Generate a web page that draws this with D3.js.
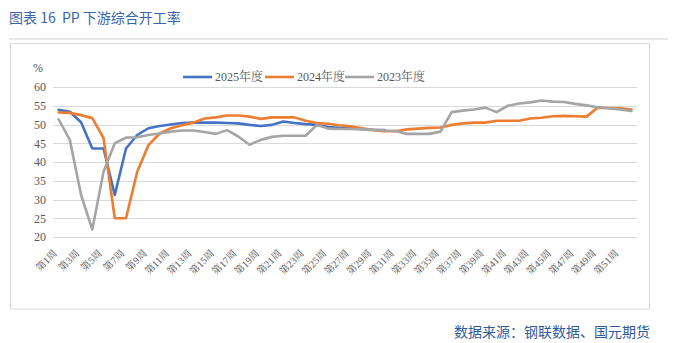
<!DOCTYPE html>
<html><head><meta charset="utf-8">
<script src="https://cdn.jsdelivr.net/npm/d3@7"></script>
<style>
html,body{margin:0;padding:0;background:#fff;}
svg{display:block;}
</style></head>
<body>
<svg id="c" width="676" height="343"></svg>
<script>
const weeks = d3.range(1, 53).map(i => "第" + i + "周");
const yTicks = [20, 25, 30, 35, 40, 45, 50, 55, 60];
const seriesNames = ["2025年度", "2024年度", "2023年度"];
const v2025 = [53.9,53.4,50.6,43.6,43.6,31.2,43.6,47.2,49.0,49.6,50.0,50.4,50.5,50.5,50.5,50.4,50.3,49.9,49.6,49.9,50.8,50.4,50.1,49.9,49.3,49.1,49.0,48.8,48.6,48.5];
const v2024 = [53.2,53.1,52.5,51.7,46.4,25.0,25.0,37.4,44.5,47.6,49.0,49.8,50.5,51.6,51.9,52.4,52.4,52.1,51.5,51.9,51.9,51.9,51.0,50.4,50.2,49.8,49.5,49.0,48.5,48.2,48.2,48.7,48.9,49.1,49.2,49.9,50.3,50.5,50.5,51.0,51.0,51.0,51.6,51.8,52.2,52.3,52.2,52.1,54.5,54.4,54.3,54.0];
const v2023 = [51.4,45.9,31.2,22.0,37.4,45.0,46.5,46.6,47.2,47.6,48.1,48.4,48.4,48.0,47.5,48.5,46.8,44.6,45.9,46.7,47.0,47.0,47.0,49.9,48.9,48.8,48.8,48.7,48.6,48.4,48.3,47.5,47.5,47.5,48.1,53.3,53.7,54.0,54.5,53.3,55.0,55.6,55.9,56.4,56.1,56.0,55.5,55.1,54.6,54.3,54.0,53.6];
const colors = ["#4472C4", "#ED7D31", "#A5A5A5"];

const svg = d3.select("#c");
const serif = "'Liberation Serif','Noto Serif CJK SC','Noto Sans CJK SC',serif";
const sans = "'Noto Sans CJK SC','Microsoft YaHei',sans-serif";

// title
svg.append("text").attr("x", 9).attr("y", 23).attr("font-family", sans).attr("font-size", 14)
  .style("white-space", "pre").attr("fill", "#3A64A8").text("图表 16  PP 下游综合开工率");
svg.append("line").attr("x1", 9).attr("x2", 668).attr("y1", 39).attr("y2", 39)
  .attr("stroke", "#D0D0D0").attr("stroke-width", 1);
// box
svg.append("rect").attr("x", 10.5).attr("y", 43.5).attr("width", 639).attr("height", 265.5)
  .attr("fill", "none").attr("stroke", "#D9D9D9");
// footer
svg.append("text").attr("x", 650).attr("y", 337).attr("text-anchor", "end").attr("font-family", sans)
  .attr("font-size", 14).attr("fill", "#2E5B9A").text("数据来源：钢联数据、国元期货");

const x = d3.scaleBand().domain(weeks).range([53, 637]);
const y = d3.scaleLinear().domain([20, 60]).range([237, 87]);
const cx = d => x(d) + x.bandwidth() / 2;

// grid
const g = svg.append("g");
g.selectAll("line.grid").data(yTicks).join("line")
  .attr("x1", 53).attr("x2", 637).attr("y1", d => Math.round(y(d)) + 0.5).attr("y2", d => Math.round(y(d)) + 0.5)
  .attr("stroke", "#D9D9D9").attr("stroke-width", 1);

// y axis labels
const yAxis = d3.axisLeft(y).tickValues(yTicks).tickSize(0).tickPadding(0);
const ya = svg.append("g").attr("transform", "translate(46,0)").call(yAxis);
ya.select(".domain").remove();
ya.selectAll("text").attr("font-family", serif).attr("font-size", 12).attr("fill", "#595959");
svg.append("text").attr("x", 33).attr("y", 72).attr("font-family", serif).attr("font-size", 12)
  .attr("fill", "#595959").text("%");

// x axis labels
const xAxis = d3.axisBottom(x).tickValues(weeks.filter((d, i) => i % 2 === 0)).tickSize(0).tickPadding(0);
const xa = svg.append("g").attr("transform", "translate(0,237)").call(xAxis);
xa.select(".domain").remove();
xa.selectAll("text").attr("font-family", serif).attr("font-size", 10).attr("fill", "#595959")
  .attr("text-anchor", "end").attr("dy", 0).attr("y", 0)
  .attr("transform", "translate(-1,17) rotate(-45)");

// lines
const data = [v2025, v2024, v2023];
const line = d3.line().x((d, i) => cx(weeks[i])).y(d => y(d));
svg.append("g").selectAll("path").data(data).join("path")
  .attr("d", d => line(d)).attr("fill", "none").attr("stroke", (d, i) => colors[i])
  .attr("stroke-width", 2.6).attr("stroke-linejoin", "round").attr("stroke-linecap", "round");

// legend
const lx = [183, 265, 345];
const lg = svg.append("g");
seriesNames.forEach((n, i) => {
  lg.append("line").attr("x1", lx[i]).attr("x2", lx[i] + 29).attr("y1", 77).attr("y2", 77)
    .attr("stroke", colors[i]).attr("stroke-width", 2.6);
  lg.append("text").attr("x", lx[i] + 32).attr("y", 81).attr("font-family", serif).attr("font-size", 12)
    .attr("fill", "#595959").text(n);
});
</script>
</body></html>
